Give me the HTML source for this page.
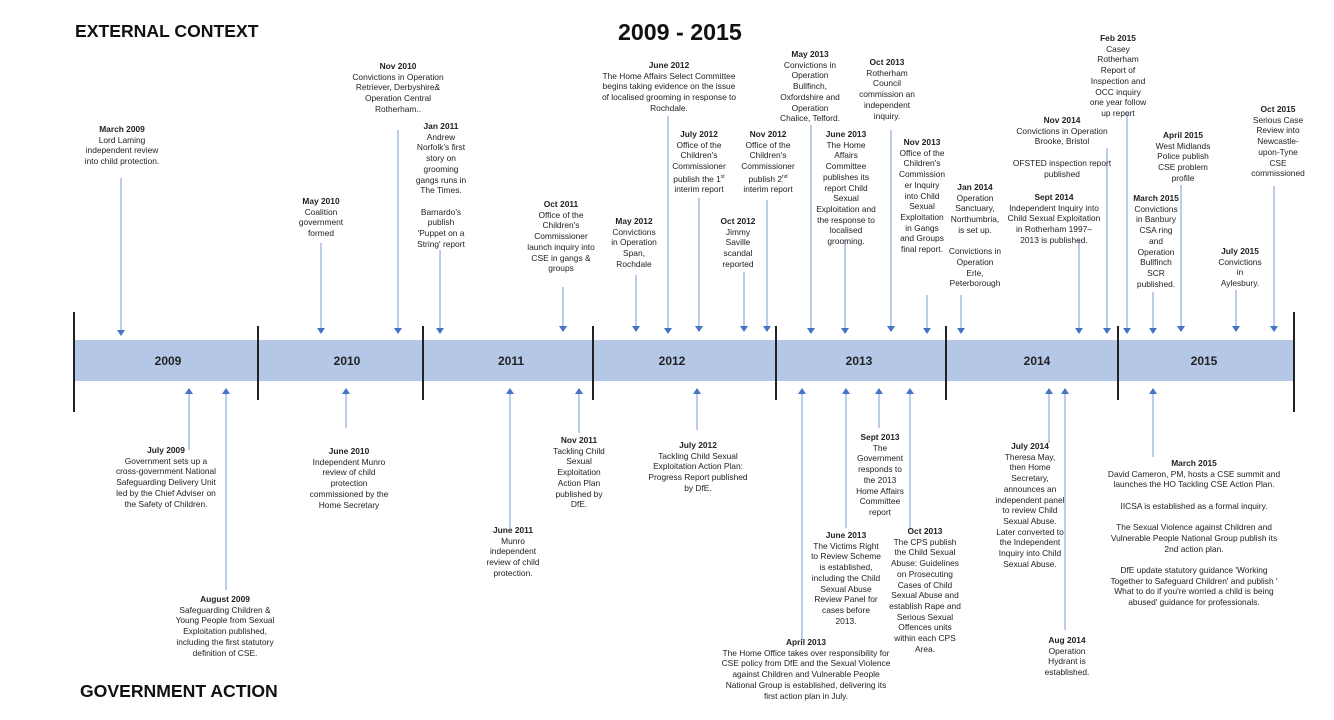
<!DOCTYPE html>
<html><head><meta charset="utf-8"><style>
body{margin:0;width:1334px;height:720px;background:#fff;position:relative;overflow:hidden;font-family:"Liberation Sans",Arial,sans-serif;color:#222}
.t{position:absolute;transform:translateX(-50%);white-space:nowrap;text-align:center;font-size:8.4px;line-height:10.7px}
.t b{font-weight:bold}
.h{position:absolute;font-weight:bold;color:#111;white-space:nowrap}
.y{position:absolute;top:354px;transform:translateX(-50%);font-weight:bold;font-size:12px;color:#222}
</style></head><body>
<svg width="1334" height="720" style="position:absolute;left:0;top:0">
<rect x="74" y="340" width="1220" height="41" fill="#b4c7e7"/>
<g stroke="#222" stroke-width="2">
<line x1="74" y1="312" x2="74" y2="412"/><line x1="1294" y1="312" x2="1294" y2="412"/>
<line x1="258" y1="326" x2="258" y2="400"/><line x1="423" y1="326" x2="423" y2="400"/>
<line x1="593" y1="326" x2="593" y2="400"/><line x1="776" y1="326" x2="776" y2="400"/>
<line x1="946" y1="326" x2="946" y2="400"/><line x1="1118" y1="326" x2="1118" y2="400"/>
</g>
<g stroke="#8faadc" stroke-width="1.2">
<line x1="121" y1="178" x2="121" y2="332"/><line x1="321" y1="243" x2="321" y2="330"/>
<line x1="398" y1="130" x2="398" y2="330"/><line x1="440" y1="250" x2="440" y2="330"/>
<line x1="563" y1="287" x2="563" y2="328"/><line x1="636" y1="275" x2="636" y2="328"/>
<line x1="668" y1="116" x2="668" y2="330"/><line x1="699" y1="198" x2="699" y2="328"/>
<line x1="744" y1="272" x2="744" y2="328"/><line x1="767" y1="200" x2="767" y2="328"/>
<line x1="811" y1="125" x2="811" y2="330"/><line x1="845" y1="240" x2="845" y2="330"/>
<line x1="891" y1="130" x2="891" y2="328"/><line x1="927" y1="295" x2="927" y2="330"/>
<line x1="961" y1="295" x2="961" y2="330"/><line x1="1079" y1="240" x2="1079" y2="330"/>
<line x1="1107" y1="148" x2="1107" y2="330"/><line x1="1127" y1="112" x2="1127" y2="330"/>
<line x1="1153" y1="292" x2="1153" y2="330"/><line x1="1181" y1="185" x2="1181" y2="328"/>
<line x1="1236" y1="290" x2="1236" y2="328"/><line x1="1274" y1="186" x2="1274" y2="328"/>
<line x1="189" y1="392" x2="189" y2="450"/><line x1="226" y1="392" x2="226" y2="590"/>
<line x1="346" y1="392" x2="346" y2="428"/><line x1="510" y1="392" x2="510" y2="528"/>
<line x1="579" y1="392" x2="579" y2="433"/><line x1="697" y1="392" x2="697" y2="430"/>
<line x1="802" y1="392" x2="802" y2="640"/><line x1="846" y1="392" x2="846" y2="528"/>
<line x1="879" y1="392" x2="879" y2="428"/><line x1="910" y1="392" x2="910" y2="530"/>
<line x1="1049" y1="392" x2="1049" y2="443"/><line x1="1065" y1="392" x2="1065" y2="630"/>
<line x1="1153" y1="392" x2="1153" y2="457"/>
</g>
<g fill="#4472c4">
<path d="M117 330h8l-4 6z"/><path d="M317 328h8l-4 6z"/><path d="M394 328h8l-4 6z"/><path d="M436 328h8l-4 6z"/>
<path d="M559 326h8l-4 6z"/><path d="M632 326h8l-4 6z"/><path d="M664 328h8l-4 6z"/><path d="M695 326h8l-4 6z"/>
<path d="M740 326h8l-4 6z"/><path d="M763 326h8l-4 6z"/><path d="M807 328h8l-4 6z"/><path d="M841 328h8l-4 6z"/>
<path d="M887 326h8l-4 6z"/><path d="M923 328h8l-4 6z"/><path d="M957 328h8l-4 6z"/><path d="M1075 328h8l-4 6z"/>
<path d="M1103 328h8l-4 6z"/><path d="M1123 328h8l-4 6z"/><path d="M1149 328h8l-4 6z"/><path d="M1177 326h8l-4 6z"/>
<path d="M1232 326h8l-4 6z"/><path d="M1270 326h8l-4 6z"/>
<path d="M185 394h8l-4 -6z"/><path d="M222 394h8l-4 -6z"/><path d="M342 394h8l-4 -6z"/><path d="M506 394h8l-4 -6z"/>
<path d="M575 394h8l-4 -6z"/><path d="M693 394h8l-4 -6z"/><path d="M798 394h8l-4 -6z"/><path d="M842 394h8l-4 -6z"/>
<path d="M875 394h8l-4 -6z"/><path d="M906 394h8l-4 -6z"/><path d="M1045 394h8l-4 -6z"/><path d="M1061 394h8l-4 -6z"/>
<path d="M1149 394h8l-4 -6z"/>
</g>
</svg>
<div class="h" style="left:75px;top:21px;font-size:17.6px">EXTERNAL CONTEXT</div>
<div class="h" style="left:618px;top:19px;font-size:23.2px">2009 - 2015</div>
<div class="h" style="left:80px;top:681px;font-size:17.6px">GOVERNMENT ACTION</div>
<div class="y" style="left:168px">2009</div><div class="y" style="left:347px">2010</div>
<div class="y" style="left:511px">2011</div><div class="y" style="left:672px">2012</div>
<div class="y" style="left:859px">2013</div><div class="y" style="left:1037px">2014</div>
<div class="y" style="left:1204px">2015</div>

<div class="t" style="left:122px;top:124px"><b>March 2009</b><br>Lord Laming<br>independent review<br>into child protection.</div>
<div class="t" style="left:321px;top:196px"><b>May 2010</b><br>Coalition<br>government<br>formed</div>
<div class="t" style="left:398px;top:61px"><b>Nov 2010</b><br>Convictions in Operation<br>Retriever, Derbyshire&amp;<br>Operation Central<br>Rotherham..</div>
<div class="t" style="left:441px;top:121px"><b>Jan 2011</b><br>Andrew<br>Norfolk's first<br>story on<br>grooming<br>gangs runs in<br>The Times.<br><br>Barnardo's<br>publish<br>'Puppet on a<br>String' report</div>
<div class="t" style="left:561px;top:199px"><b>Oct 2011</b><br>Office of the<br>Children's<br>Commissioner<br>launch inquiry into<br>CSE in gangs &amp;<br>groups</div>
<div class="t" style="left:634px;top:216px"><b>May 2012</b><br>Convictions<br>in Operation<br>Span,<br>Rochdale</div>
<div class="t" style="left:669px;top:60px"><b>June 2012</b><br>The Home Affairs Select Committee<br>begins taking evidence on the issue<br>of localised grooming in response to<br>Rochdale.</div>
<div class="t" style="left:699px;top:129px"><b>July 2012</b><br>Office of the<br>Children's<br>Commissioner<br>publish the 1<sup style="font-size:5px">st</sup><br>interim report</div>
<div class="t" style="left:738px;top:216px"><b>Oct 2012</b><br>Jimmy<br>Saville<br>scandal<br>reported</div>
<div class="t" style="left:768px;top:129px"><b>Nov 2012</b><br>Office of the<br>Children's<br>Commissioner<br>publish 2<sup style="font-size:5px">nd</sup><br>interim report</div>
<div class="t" style="left:810px;top:49px"><b>May 2013</b><br>Convictions in<br>Operation<br>Bullfinch,<br>Oxfordshire and<br>Operation<br>Chalice, Telford.</div>
<div class="t" style="left:846px;top:129px"><b>June 2013</b><br>The Home<br>Affairs<br>Committee<br>publishes its<br>report Child<br>Sexual<br>Exploitation and<br>the response to<br>localised<br>grooming.</div>
<div class="t" style="left:887px;top:57px"><b>Oct 2013</b><br>Rotherham<br>Council<br>commission an<br>independent<br>inquiry.</div>
<div class="t" style="left:922px;top:137px"><b>Nov 2013</b><br>Office of the<br>Children's<br>Commission<br>er Inquiry<br>into Child<br>Sexual<br>Exploitation<br>in Gangs<br>and Groups<br>final report.</div>
<div class="t" style="left:975px;top:182px"><b>Jan 2014</b><br>Operation<br>Sanctuary,<br>Northumbria,<br>is set up.<br><br>Convictions in<br>Operation<br>Erle,<br>Peterborough</div>
<div class="t" style="left:1062px;top:115px"><b>Nov 2014</b><br>Convictions in Operation<br>Brooke, Bristol<br><br>OFSTED inspection report<br>published</div>
<div class="t" style="left:1054px;top:192px"><b>Sept 2014</b><br>Independent Inquiry into<br>Child Sexual Exploitation<br>in Rotherham 1997–<br>2013 is published.</div>
<div class="t" style="left:1118px;top:33px"><b>Feb 2015</b><br>Casey<br>Rotherham<br>Report of<br>Inspection and<br>OCC inquiry<br>one year follow<br>up report</div>
<div class="t" style="left:1156px;top:193px"><b>March 2015</b><br>Convictions<br>in Banbury<br>CSA ring<br>and<br>Operation<br>Bullfinch<br>SCR<br>published.</div>
<div class="t" style="left:1183px;top:130px"><b>April 2015</b><br>West Midlands<br>Police publish<br>CSE problem<br>profile</div>
<div class="t" style="left:1240px;top:246px"><b>July 2015</b><br>Convictions<br>in<br>Aylesbury.</div>
<div class="t" style="left:1278px;top:104px"><b>Oct 2015</b><br>Serious Case<br>Review into<br>Newcastle-<br>upon-Tyne<br>CSE<br>commissioned</div>

<div class="t" style="left:166px;top:445px"><b>July 2009</b><br>Government sets up a<br>cross-government National<br>Safeguarding Delivery Unit<br>led by the Chief Adviser on<br>the Safety of Children.</div>
<div class="t" style="left:225px;top:594px"><b>August 2009</b><br>Safeguarding Children &amp;<br>Young People from Sexual<br>Exploitation published,<br>including the first statutory<br>definition of CSE.</div>
<div class="t" style="left:349px;top:446px"><b>June 2010</b><br>Independent Munro<br>review of child<br>protection<br>commissioned by the<br>Home Secretary</div>
<div class="t" style="left:513px;top:525px"><b>June 2011</b><br>Munro<br>independent<br>review of child<br>protection.</div>
<div class="t" style="left:579px;top:435px"><b>Nov 2011</b><br>Tackling Child<br>Sexual<br>Exploitation<br>Action Plan<br>published by<br>DfE.</div>
<div class="t" style="left:698px;top:440px"><b>July 2012</b><br>Tackling Child Sexual<br>Exploitation Action Plan:<br>Progress Report published<br>by DfE.</div>
<div class="t" style="left:806px;top:637px"><b>April 2013</b><br>The Home Office takes over responsibility for<br>CSE policy from DfE and the Sexual Violence<br>against Children and Vulnerable People<br>National Group is established, delivering its<br>first action plan in July.</div>
<div class="t" style="left:846px;top:530px"><b>June 2013</b><br>The Victims Right<br>to Review Scheme<br>is established,<br>including the Child<br>Sexual Abuse<br>Review Panel for<br>cases before<br>2013.</div>
<div class="t" style="left:880px;top:432px"><b>Sept 2013</b><br>The<br>Government<br>responds to<br>the 2013<br>Home Affairs<br>Committee<br>report</div>
<div class="t" style="left:925px;top:526px"><b>Oct 2013</b><br>The CPS publish<br>the Child Sexual<br>Abuse: Guidelines<br>on Prosecuting<br>Cases of Child<br>Sexual Abuse and<br>establish Rape and<br>Serious Sexual<br>Offences units<br>within each CPS<br>Area.</div>
<div class="t" style="left:1030px;top:441px"><b>July 2014</b><br>Theresa May,<br>then Home<br>Secretary,<br>announces an<br>independent panel<br>to review Child<br>Sexual Abuse.<br>Later converted to<br>the Independent<br>Inquiry into Child<br>Sexual Abuse.</div>
<div class="t" style="left:1067px;top:635px"><b>Aug 2014</b><br>Operation<br>Hydrant is<br>established.</div>
<div class="t" style="left:1194px;top:458px"><b>March 2015</b><br>David Cameron, PM, hosts a CSE summit and<br>launches the HO Tackling CSE Action Plan.<br><br>IICSA is established as a formal inquiry.<br><br>The Sexual Violence against Children and<br>Vulnerable People National Group publish its<br>2nd action plan.<br><br>DfE update statutory guidance 'Working<br>Together to Safeguard Children' and publish '<br>What to do if you're worried a child is being<br>abused' guidance for professionals.</div>
</body></html>
